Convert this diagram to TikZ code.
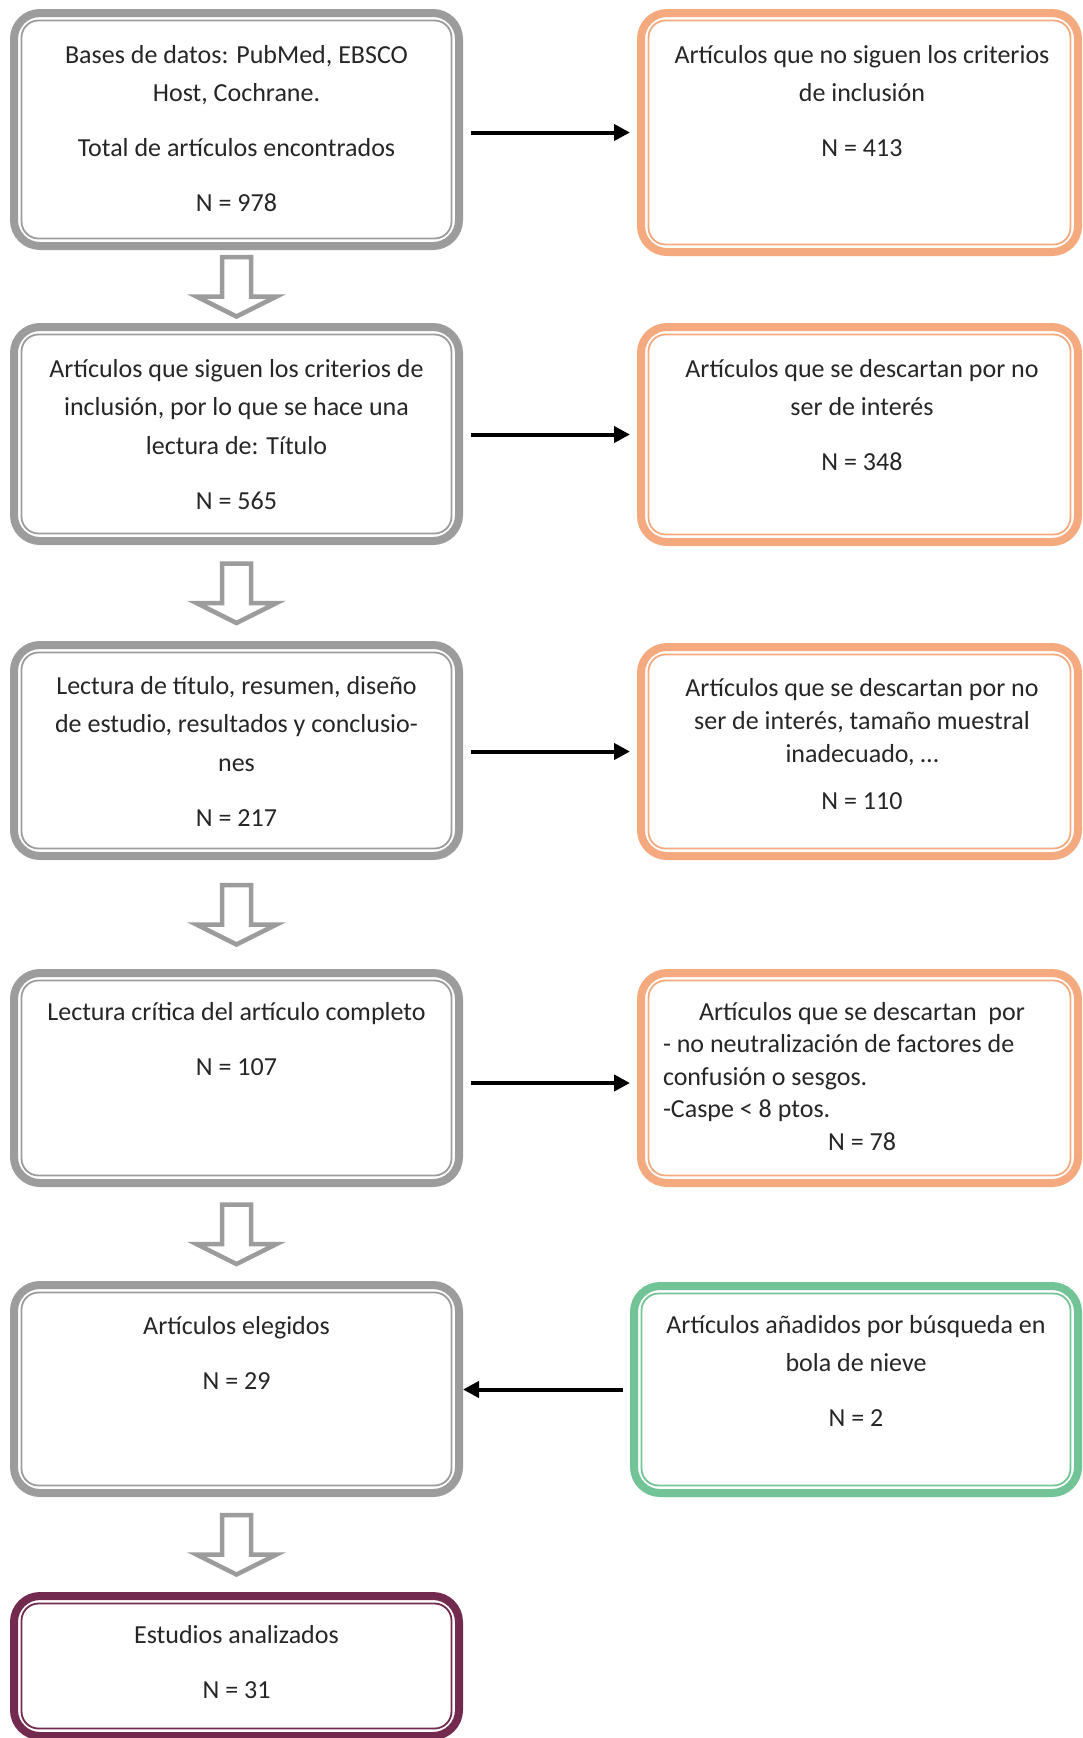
\documentclass[tikz,border=0pt]{standalone}
\usepackage{fontspec}
\setmainfont{Carlito}
\usetikzlibrary{calc,arrows.meta}
\definecolor{cgray}{HTML}{9C9C9C}
\definecolor{corange}{HTML}{F4AA7E}
\definecolor{cgreen}{HTML}{72C497}
\definecolor{cmaroon}{HTML}{722A4F}
\tikzset{
  boxbase/.style={draw, line width=8pt, rounded corners=26pt, fill=white, inner sep=0pt},
  txt/.style={inner sep=0pt, anchor=north, font=\fontsize{26}{38.5}\selectfont, align=center, text=black!85},
  arr/.style={line width=4pt, -{Triangle[length=16pt,width=16pt]}},
  harrow/.style={draw=cgray, line width=4.5pt, fill=white, line join=miter},
}
\newcommand{\dblbox}[6]{%
  \node[boxbase, draw=#2, minimum width=#5pt, minimum height=#6pt] (#1) at (#3,#4) {};
  \draw[#2, line width=1.8pt, rounded corners=17pt] ($(#1.north west)+(11.5,11.5)$) rectangle ($(#1.south east)+(-11.5,-11.5)$);
}
\newcommand{\hollowdown}[1]{%
  \draw[harrow] ($(#1)+(-14.5,-29.5)$) -- ($(#1)+(14.5,-29.5)$) -- ($(#1)+(14.5,10)$) -- ($(#1)+(40,10)$) -- ($(#1)+(0,30)$) -- ($(#1)+(-40,10)$) -- ($(#1)+(-14.5,10)$) -- cycle;
}
\begin{document}
\begin{tikzpicture}[x=1pt,y=-1pt]
\useasboundingbox[fill=white] (0,0) rectangle (1083,1738);
% left column
\dblbox{l1}{cgray}{236.5}{129.5}{445}{233}
\dblbox{l2}{cgray}{236.5}{434}{445}{214}
\dblbox{l3}{cgray}{236.5}{750.5}{445}{211}
\dblbox{l4}{cgray}{236.5}{1078}{445}{210}
\dblbox{l5}{cgray}{236.5}{1389}{445}{208}
\dblbox{l6}{cmaroon}{236.5}{1666}{445}{140}
% right column
\dblbox{r1}{corange}{859.5}{132.5}{437}{239}
\dblbox{r2}{corange}{859.5}{434.5}{437}{215}
\dblbox{r3}{corange}{859.5}{751.5}{437}{209}
\dblbox{r4}{corange}{859.5}{1078}{437}{210}
\dblbox{g1}{cgreen}{856}{1389.5}{444}{207}
% texts
\node[txt] (tl1) at (236.5,41) {\rule{0pt}{22pt}Bases de datos: PubMed, EBSCO\\Host, Cochrane.\\[16.5pt]Total de artículos encontrados\\[16.5pt]N = 978};
\node[txt] (tl2) at (236.5,355) {\rule{0pt}{22pt}Artículos que siguen los criterios de\\inclusión, por lo que se hace una\\lectura de: Título\\[16.5pt]N = 565};
\node[txt] (tl3) at (236.5,672) {\rule{0pt}{22pt}Lectura de título, resumen, diseño\\de estudio, resultados y conclusio-\\nes\\[16.5pt]N = 217};
\node[txt] (tl4) at (236.5,998) {\rule{0pt}{22pt}Lectura crítica del artículo completo\\[16.5pt]N = 107};
\node[txt] (tl5) at (236.5,1312) {\rule{0pt}{22pt}Artículos elegidos\\[16.5pt]N = 29};
\node[txt] (tl6) at (236.5,1621) {\rule{0pt}{22pt}Estudios analizados\\[16.5pt]N = 31};
\node[txt] (tr1) at (862,41) {\rule{0pt}{22pt}Artículos que no siguen los criterios\\de inclusión\\[16.5pt]N = 413};
\node[txt] (tr2) at (862,355) {\rule{0pt}{22pt}Artículos que se descartan por no\\ser de interés\\[16.5pt]N = 348};
\node[txt, font=\fontsize{26}{33}\selectfont] (tr3) at (862,674) {\rule{0pt}{22pt}Artículos que se descartan por no\\ser de interés, tamaño muestral\\inadecuado, …\\[14pt]N = 110};
\node[txt, text width=398pt, align=flush left, font=\fontsize{26}{32.5}\selectfont] (tr4) at (862,998) {\rule{0pt}{22pt}\hfill Artículos que se descartan\ \ por\hfill\null\\- no neutralización de factores de\\confusión o sesgos.\\-Caspe < 8 ptos.\\\hfill N = 78\hfill\null};
\node[txt] (tg1) at (856,1311) {\rule{0pt}{22pt}Artículos añadidos por búsqueda en\\bola de nieve\\[16.5pt]N = 2};
% black arrows
\draw[arr, shorten <=8pt, shorten >=7pt] (l1.east |- r1.west) -- (r1.west);
\draw[arr, shorten <=8pt, shorten >=7pt] (l2.east |- r2.west) -- (r2.west);
\draw[arr, shorten <=8pt, shorten >=7pt] (l3.east |- r3.west) -- (r3.west);
\draw[arr, shorten <=8pt, shorten >=7pt] ([yshift=-5pt]l4.east |- r4.west) -- ([yshift=-5pt]r4.west);
\draw[arr, shorten <=7pt] (g1.west) -- (g1.west -| l5.east);
% hollow down arrows
\coordinate (m1) at ($(l1.south)!0.5!(l2.north)$);
\coordinate (m2) at ($(l2.south)!0.5!(l3.north)$);
\coordinate (m3) at ($(l3.south)!0.5!(l4.north)$);
\coordinate (m4) at ($(l4.south)!0.5!(l5.north)$);
\coordinate (m5) at ($(l5.south)!0.5!(l6.north)$);
\hollowdown{m1}
\hollowdown{m2}
\hollowdown{m3}
\hollowdown{m4}
\hollowdown{m5}
\end{tikzpicture}
\end{document}
